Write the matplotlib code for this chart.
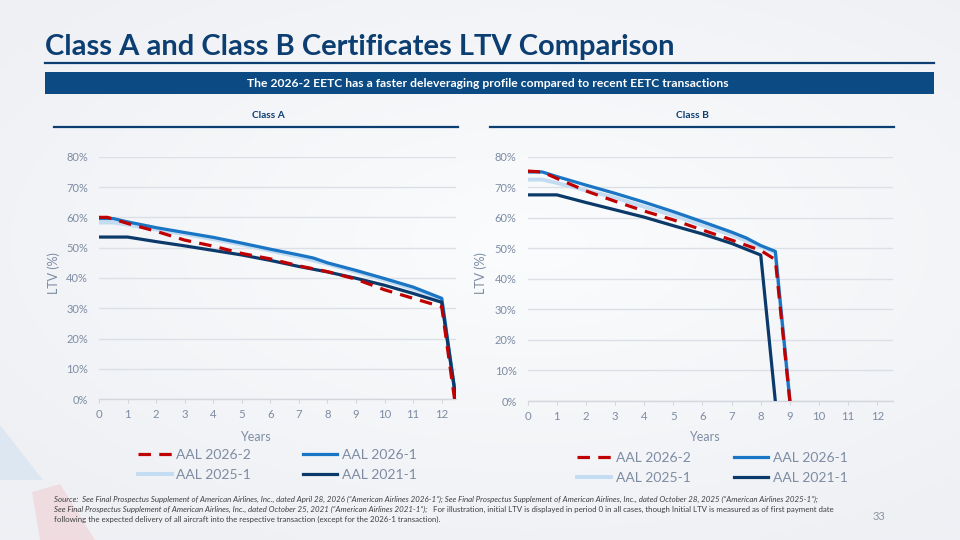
import matplotlib
matplotlib.use("Agg")
import matplotlib.pyplot as plt
import numpy as np
from matplotlib.lines import Line2D
from matplotlib.patches import Rectangle, Polygon

plt.rcParams['font.family'] = ['Lato', 'DejaVu Sans']

# ---------------- data ----------------
series_names = ["AAL 2026-2", "AAL 2026-1", "AAL 2025-1", "AAL 2021-1"]

# Class A
a_2026_2_x = [0, 0.3, 1, 2, 3, 4, 5, 6, 7, 8, 9, 10, 11, 12, 12.45]
a_2026_2_y = [60.0, 60.0, 58.0, 55.4, 52.5, 50.5, 48.1, 46.3, 44.0, 42.1, 39.6, 36.1, 33.3, 30.5, 0.0]
a_2026_1_x = [0, 0.5, 1, 2, 3, 4, 5, 6, 7, 7.5, 8, 9, 10, 11, 12, 12.5]
a_2026_1_y = [59.6, 59.6, 58.5, 56.6, 55.0, 53.4, 51.5, 49.5, 47.6, 46.6, 45.0, 42.5, 39.8, 37.0, 33.3, 0.0]
a_2025_1_x = [0, 0.5, 1, 2, 3, 4, 5, 6, 7, 8, 9, 10, 11, 12, 12.5]
a_2025_1_y = [58.3, 58.3, 57.6, 56.0, 54.5, 52.8, 51.0, 49.0, 47.0, 44.6, 42.0, 39.3, 36.4, 33.0, 0.0]
a_2021_1_x = [0, 1, 2, 3, 4, 5, 6, 7, 8, 9, 10, 11, 12, 12.5]
a_2021_1_y = [53.5, 53.5, 52.0, 50.6, 49.1, 47.6, 45.8, 43.8, 42.0, 39.9, 37.6, 34.9, 32.0, 0.0]

# Class B
b_2026_2_x = [0, 0.5, 1, 2, 3, 4, 5, 6, 7, 8, 8.5, 9.0]
b_2026_2_y = [75.3, 75.0, 72.9, 68.8, 65.4, 62.2, 59.3, 56.0, 52.7, 49.3, 46.3, 0.0]
b_2026_1_x = [0, 0.5, 1, 2, 3, 4, 5, 6, 7, 7.5, 8, 8.5, 9.0]
b_2026_1_y = [75.0, 75.0, 73.5, 70.7, 68.0, 65.1, 62.0, 58.7, 55.3, 53.4, 50.9, 49.0, 0.0]
b_2025_1_x = [0, 0.5, 1, 2, 3, 4, 5, 6, 7, 8, 8.5, 9.0]
b_2025_1_y = [72.5, 72.5, 71.4, 69.0, 66.6, 63.6, 60.8, 57.6, 54.4, 50.5, 48.6, 0.0]
b_2021_1_x = [0, 1, 2, 3, 4, 5, 6, 7, 8, 8.5]
b_2021_1_y = [67.5, 67.5, 65.0, 62.6, 60.2, 57.4, 54.7, 51.6, 47.8, 0.0]

x_ticks = list(range(0, 13))
y_ticks = [0, 10, 20, 30, 40, 50, 60, 70, 80]

title = "Class A and Class B Certificates LTV Comparison"
banner = "The 2026-2 EETC has a faster deleveraging profile compared to recent EETC transactions"
panel_titles = ["Class A", "Class B"]
foot1 = "Source:  See Final Prospectus Supplement of American Airlines, Inc., dated April 28, 2026 (\u201cAmerican Airlines 2026-1\u201d); See Final Prospectus Supplement of American Airlines, Inc., dated October 28, 2025 (\u201cAmerican Airlines 2025-1\u201d);"
foot2a = "See Final Prospectus Supplement of American Airlines, Inc., dated October 25, 2021 (\u201cAmerican Airlines 2021-1\u201d);"
foot2b = " For illustration, initial LTV is displayed in period 0 in all cases, though Initial LTV is measured as of first payment date"
foot3 = "following the expected delivery of all aircraft into the respective transaction (except for the 2026-1 transaction)."
page_no = "33"

# ---------------- style ----------------
C_RED = "#C00000"
C_BLUE = "#1A75C4"
C_LIGHT = "#C3DCF2"
C_NAVY = "#0B3A6A"
C_TITLE = "#0C3E72"
C_BANNER = "#0B4A82"
C_TICK = "#7D8CA3"
C_GRID = "#DCE0E6"
C_FOOT = "#3F3F3F"

W, H = 960, 540
fig = plt.figure(figsize=(9.6, 5.4), dpi=100)

def fx(x):
    return x / W

def fy(y):
    return 1 - y / H

# background gradient
bg = fig.add_axes([0, 0, 1, 1], zorder=-10)
yy, xx = np.mgrid[0:1:200j, 0:1:360j]
g = np.sqrt(((xx - 0.55) / 0.9) ** 2 + ((yy - 0.45) / 0.8) ** 2)
bg.imshow(g, cmap=matplotlib.colors.LinearSegmentedColormap.from_list("bg", ["#FBFCFD", "#EEF0F4"]),
          extent=[0, 1, 0, 1], aspect='auto', vmin=0, vmax=0.8)
bg.add_patch(Polygon([[0, fy(425)], [fx(43), fy(480)], [0, fy(480)]], closed=True,
                     color="#BFD9EC", alpha=0.35, lw=0))
bg.add_patch(Polygon([[fx(32), fy(492)], [fx(60), fy(484)], [fx(95), fy(540)], [fx(40), fy(540)]],
                     closed=True, color="#F2B8BE", alpha=0.35, lw=0))
bg.set_xlim(0, 1)
bg.set_ylim(0, 1)
bg.axis('off')

renderer = fig.canvas.get_renderer()

def fit_text(x, y, s, width_px, **kw):
    t = fig.text(x, y, s, **kw)
    bb = t.get_window_extent(renderer=renderer)
    t.set_fontsize(t.get_fontsize() * width_px / bb.width)
    return t

# title
fit_text(fx(45), fy(55), title, 629, fontsize=20, fontweight='bold', color=C_TITLE,
         ha='left', va='baseline')
fig.add_artist(Line2D([fx(45), fx(934)], [fy(62.7), fy(62.7)], color=C_TITLE, lw=1.6))
fig.add_artist(Rectangle((fx(45), fy(94)), fx(934) - fx(45), (94 - 72) / H,
                         facecolor=C_BANNER, edgecolor='none'))
fit_text(fx(488), fy(83.5), banner, 485, fontsize=8, fontweight='bold', color='white',
         ha='center', va='center')

# panel titles
for cx, x0, x1, s in [(268, 54, 458, panel_titles[0]), (692, 490, 894, panel_titles[1])]:
    fit_text(fx(cx), fy(115), s, 33, fontsize=8, fontweight='bold', color=C_TITLE,
             ha='center', va='center')
    fig.add_artist(Line2D([fx(x0), fx(x1)], [fy(127.3), fy(127.3)], color=C_TITLE, lw=1.6))

# axes
def make_ax(x0, x1, ytop, ybot, xmax):
    ax = fig.add_axes([fx(x0), fy(ybot), (x1 - x0) / W, (ybot - ytop) / H])
    ax.set_facecolor('none')
    ax.set_xlim(0, xmax)
    ax.set_ylim(0, 80)
    ax.set_xticks(x_ticks)
    ax.set_yticks(y_ticks)
    ax.set_yticklabels([f"{v}%" for v in y_ticks])
    ax.grid(axis='y', color=C_GRID, lw=1.0)
    ax.set_axisbelow(True)
    for sp in ['top', 'right', 'left']:
        ax.spines[sp].set_visible(False)
    ax.spines['bottom'].set_color("#D3D7DD")
    ax.spines['bottom'].set_linewidth(1.0)
    ax.tick_params(axis='x', length=3, color="#D3D7DD", labelsize=8.2, labelcolor=C_TICK, pad=4)
    ax.tick_params(axis='y', length=0, labelsize=8.0, labelcolor=C_TICK, pad=8)
    return ax

axA = make_ax(99, 456, 156.7, 399.3, 12.5)
axB = make_ax(527.7, 893.3, 156.7, 401, 12.55)

dash = (3.9, 2.6)

def draw(ax, d26_2, d26_1, d25_1, d21_1):
    h3, = ax.plot(*d25_1, color=C_LIGHT, lw=2.8, label=series_names[2], zorder=2)
    h2, = ax.plot(*d26_1, color=C_BLUE, lw=2.3, label=series_names[1], zorder=3)
    h4, = ax.plot(*d21_1, color=C_NAVY, lw=2.3, label=series_names[3], zorder=4)
    h1, = ax.plot(*d26_2, color=C_RED, lw=2.3, dashes=dash, label=series_names[0], zorder=5)
    return [h1, h3, h2, h4]

hA = draw(axA, (a_2026_2_x, a_2026_2_y), (a_2026_1_x, a_2026_1_y),
          (a_2025_1_x, a_2025_1_y), (a_2021_1_x, a_2021_1_y))
hB = draw(axB, (b_2026_2_x, b_2026_2_y), (b_2026_1_x, b_2026_1_y),
          (b_2025_1_x, b_2025_1_y), (b_2021_1_x, b_2021_1_y))

for ax, lx, lxy, yl_x, yl_y in [(axA, 0.437, -0.132, -0.109, 0.52), (axB, 0.482, -0.123, -0.111, 0.525)]:
    ax.set_xlabel("Years", fontsize=9, color=C_TICK)
    ax.xaxis.set_label_coords(lx, lxy)
    ax.set_ylabel("LTV (%)", fontsize=9, color=C_TICK)
    ax.yaxis.set_label_coords(yl_x, yl_y)

# legends
fig.legend(handles=hA, labels=[h.get_label() for h in hA], ncol=2, frameon=False,
           loc='upper left', bbox_to_anchor=(fx(137.6), fy(449)), borderaxespad=0, borderpad=0,
           fontsize=10, handlelength=2.45, handletextpad=0.35, columnspacing=3.7,
           labelspacing=0.6, labelcolor=C_TICK)
fig.legend(handles=hB, labels=[h.get_label() for h in hB], ncol=2, frameon=False,
           loc='upper left', bbox_to_anchor=(fx(577), fy(452)), borderaxespad=0, borderpad=0,
           fontsize=10, handlelength=2.45, handletextpad=0.35, columnspacing=3.1,
           labelspacing=0.6, labelcolor=C_TICK)

# footer: one common font size, chosen so line 2 clears the page number
t2a = fig.text(fx(54), fy(509), foot2a, fontsize=6, style='italic', color=C_FOOT,
               ha='left', va='center')
t2b = fig.text(fx(54), fy(509), foot2b, fontsize=6, color=C_FOOT, ha='left', va='center')
wa = t2a.get_window_extent(renderer=renderer).width
wb = t2b.get_window_extent(renderer=renderer).width
k = 785.0 / (wa + wb)
fs = 6 * k
t2a.set_fontsize(fs)
t2b.set_fontsize(fs)
t2b.set_x(fx(54) + wa * k / W)
fig.text(fx(54), fy(499), foot1, fontsize=fs, style='italic', color=C_FOOT, ha='left', va='center')
fig.text(fx(54), fy(519.5), foot3, fontsize=fs, color=C_FOOT, ha='left', va='center')
fig.text(fx(879), fy(516), page_no, fontsize=8, color="#8C939C", ha='center', va='center')

fig.savefig("out.png", dpi=100)
